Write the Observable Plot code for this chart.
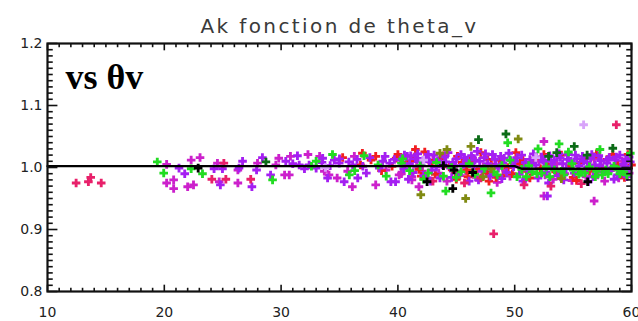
<!DOCTYPE html>
<html>
<head>
<meta charset="utf-8">
<script src="https://cdn.jsdelivr.net/npm/d3@7"></script>
<script src="https://cdn.jsdelivr.net/npm/@observablehq/plot@0.6"></script>
<style>
  html, body { margin: 0; padding: 0; background: #fff; }
  #chart { width: 638px; height: 321px; overflow: hidden; }
</style>
</head>
<body>
<div id="chart"></div>
<script>
const titleText = "Ak fonction de theta_v";
const annotText = "vs θv";
const xTicks = [10, 20, 30, 40, 50, 60];
const yTicks = [0.8, 0.9, 1.0, 1.1, 1.2];
const xDomain = [10, 60];
const yDomain = [0.8, 1.2];

const meanLine = [[10, 1.0022], [50, 1.0022], [50.6, 0.998], [60, 0.998]];

const greenPts = [
  [19.4,1.009],[19.95,0.991],[22.3,0.998],[23.27,0.990],[29.27,0.980],
  [32.6,1.002],[33.0,1.010],[34.4,1.021],[35.84,0.988],[36.3,0.995],[37.1,1.019],[38.3,1.004],[39.0,0.986],[40.3,1.007],
  [40.4,1.014],[41.0,0.995],[41.9,1.003],[42.6,0.991],[43.3,1.008],[43.9,0.986],[44.6,1.000],[45.4,0.993],[46.1,1.006],
  [46.6,0.989],[47.4,0.998],[48.2,0.993],[48.9,1.003],[49.6,1.012],[50.6,0.997],[51.2,1.003],[51.9,0.990],[52.7,1.001],
  [53.4,0.996],[54.2,0.988],[54.9,1.006],[55.7,0.992],[56.4,1.001],[56.9,0.985],[57.8,0.996],[58.5,1.002],[59.3,0.993],
  [59.9,1.023],[44.1,0.962],[47.97,0.959],[49.4,1.040],[53.8,1.038],[57.3,1.029],[52.0,1.030],[54.6,1.025],[58.0,0.990],
  [55.5,0.989],[50.2,0.985],[51.5,0.993],[53.0,0.985],[56.0,0.991],[57.0,0.994],[58.9,0.996],[59.6,0.988],
  [42.2,0.981],[45.0,0.984],[48.5,0.988],[51.0,0.985],[52.3,0.991],[54.0,0.994],[55.0,0.996],[57.5,0.988],[59.0,0.990]
];
const darkGreenPts = [
  [28.7,1.009],[49.25,1.054],[46.9,1.045],[55.1,1.034],[58.4,1.031],[52.9,1.018],[56.2,1.020],[53.6,1.024]
];
const olivePts = [
  [46.25,1.034],[50.3,1.046],[44.2,1.029],[41.96,0.956],[45.8,0.950],[48.0,0.998],[43.6,1.023],[47.3,0.985],[54.0,0.982]
];
const redPts = [
  [35.27,1.016],[36.8,1.004],[36.96,1.023],[37.7,1.012],[38.1,1.018],[38.6,0.995],[39.5,1.002],[39.85,1.015],[41.5,1.029],
  [40.0,1.021],[40.6,1.003],[41.4,1.016],[41.8,0.997],[42.3,1.025],[42.9,1.007],[43.2,0.989],[43.7,1.015],[44.4,1.001],
  [44.9,0.992],[45.1,1.018],[45.5,1.008],[46.0,0.985],[46.2,1.010],[46.8,0.997],[47.1,1.024],[47.6,0.992],[48.0,1.005],
  [48.4,0.984],[48.7,1.012],[49.4,1.000],[49.8,0.990],[50.1,1.024],[50.5,1.006],[51.0,0.994],[51.7,1.015],[52.2,0.998],
  [52.8,1.005],[53.5,0.993],[54.0,1.020],[54.7,1.003],[55.0,0.984],[55.6,1.008],[56.4,0.994],[57.0,1.022],[57.5,0.999],
  [58.4,1.021],[58.8,1.004],[59.1,0.989],[59.7,1.021],[60.0,1.004],[45.0,0.981],[47.8,0.978],[51.3,0.983],[55.3,0.979],
  [41.1,1.010],[42.0,0.986],[43.9,1.019],[45.9,0.996],[47.7,1.013],[49.0,0.987],[50.7,1.013],[52.5,1.021],[53.9,0.986],
  [56.0,1.015],[57.9,1.013],[59.4,0.984]
];
const crimsonPts = [
  [12.45,0.975],[13.5,0.977],[13.7,0.984],[14.6,0.975],[24.07,0.981],[25.1,1.007],[25.27,0.981],[27.4,0.981],
  [48.2,0.893],[58.7,1.069],[43.0,0.978],[45.7,0.975],[47.1,0.983],[50.8,0.972],[53.1,0.970],[55.7,0.974]
];
const magentaPts = [
  [20.2,1.005],[20.2,0.975],[20.8,0.980],[20.8,0.966],[22.3,1.012],[22.0,0.969],[22.5,0.972],[23.06,1.016],[24.55,1.007],
  [24.7,0.977],[26.3,0.975],[26.3,0.996],[27.98,1.007],[29.55,1.004],[29.8,1.015],[30.7,0.988],[30.8,1.018],[32.3,1.021],
  [30.3,0.988],[33.3,1.018],[33.7,0.994],[34.8,0.983],[35.7,0.994],[36.27,1.018],[38.1,0.972],[38.98,0.996],[40.1,0.988],
  [34.1,0.988],[36.1,0.969],[41.2,0.980],[41.8,0.969],[52.5,0.954],[56.8,0.946],[52.5,1.042],
  [40.3,0.990],[40.7,1.008],[41.2,0.985],[41.6,1.002],[42.1,0.994],[42.5,0.983],[43.0,1.012],[43.5,0.991],[44.2,0.978],
  [44.8,1.002],[45.3,0.987],[45.8,0.995],[46.4,1.015],[46.7,0.984],[47.3,1.001],[47.8,0.990],[48.5,0.976],[49.2,0.996],
  [49.6,0.986],[50.3,1.005],[50.9,0.980],[51.4,0.993],[52.1,1.010],[52.6,0.988],[53.3,0.981],[53.6,1.006],[54.3,0.990],
  [54.9,0.979],[55.4,0.997],[56.1,0.985],[56.8,1.013],[57.1,0.988],[57.7,0.978],[58.2,0.995],[58.9,0.983],[59.2,1.010],[59.8,0.991]
];
const purplePts = [
  [21.26,0.999],[21.75,0.990],[24.26,0.998],[24.8,0.972],[24.98,0.998],[26.4,0.999],[26.7,1.010],[27.5,0.969],[27.9,0.996],
  [28.4,1.016],[29.1,0.988],[30.4,1.010],[31.4,1.019],[31.55,1.004],[32.4,1.004],[33.0,0.999],[33.56,1.015],[33.98,0.983],
  [34.55,1.012],[34.98,1.007],[35.4,0.977],[36.13,1.004],[36.56,0.983],[37.3,0.991],[38.7,1.010],[39.4,0.977],[40.56,1.020],
  [39.8,0.977],[52.8,0.954],
  [31.0,1.006],[32.0,0.998],[33.5,1.008],[34.2,1.003],[35.0,1.014],[35.8,1.009],[36.5,1.013],[37.0,1.002],[37.6,1.016],
  [38.4,0.999],[38.9,1.018],[39.3,1.007],[39.7,1.013],
  [40.2,1.012],[40.5,0.998],[40.8,1.018],[41.0,1.006],[41.3,0.992],[41.5,1.014],[41.7,1.022],[42.0,1.003],[42.2,0.987],
  [42.4,1.016],[42.7,1.009],[42.9,0.996],[43.1,1.020],[43.4,1.011],[43.6,0.983],[43.8,1.004],[44.0,1.017],[44.3,1.024],
  [44.5,0.999],[44.7,1.008],[45.0,1.014],[45.2,0.990],[45.4,1.021],[45.6,1.005],[45.9,1.012],[46.1,0.978],[46.3,1.019],
  [46.5,1.002],[46.8,1.026],[47.0,1.010],[47.2,0.994],[47.4,1.016],[47.7,1.006],[47.9,0.986],[48.1,1.021],[48.3,1.013],
  [48.6,0.999],[48.8,1.018],[49.0,1.007],[49.3,0.992],[49.5,1.023],[49.7,1.011],[49.9,1.001],[50.2,1.016],[50.4,0.989],
  [50.6,1.020],[50.9,1.008],[51.1,0.996],[51.3,1.013],[51.6,1.022],[51.8,1.004],[52.0,0.983],[52.3,1.017],[52.5,1.009],
  [52.7,0.993],[53.0,1.019],[53.2,1.002],[53.4,1.012],[53.7,0.987],[53.9,1.016],[54.1,1.006],[54.4,0.998],[54.6,1.021],
  [54.8,1.010],[55.1,0.991],[55.3,1.014],[55.5,1.003],[55.8,1.018],[56.0,0.996],[56.2,1.008],[56.5,1.015],[56.7,0.985],
  [56.9,1.004],[57.2,1.019],[57.4,1.011],[57.6,0.993],[57.9,1.007],[58.1,1.016],[58.3,0.999],[58.6,1.012],[58.8,0.988],
  [59.0,1.020],[59.3,1.005],[59.5,1.013],[59.7,0.997],[59.9,1.009],
  [40.4,1.003],[41.1,1.019],[41.9,1.010],[42.6,1.021],[43.3,1.001],[44.1,1.009],[44.9,1.003],[45.7,1.016],[46.6,1.012],
  [47.5,1.022],[48.4,1.004],[49.1,1.015],[50.0,1.010],[50.8,1.001],[51.5,1.007],[52.4,1.012],[53.1,1.010],[53.8,1.022],
  [54.5,1.013],[55.2,1.020],[55.9,1.010],[56.6,1.021],[57.3,1.003],[58.0,1.013],[58.7,1.017],[59.4,1.001],[59.8,1.017],
  [40.9,0.981],[42.8,0.978],[44.6,0.984],[46.9,0.980],[48.9,0.982],[50.7,0.978],[52.9,0.975],[54.2,0.980],[56.3,0.977],
  [58.5,0.981],[59.6,0.985]
];
const blackPts = [
  [22.9,0.999],[42.5,0.977],[44.8,0.996],[44.7,0.966],[46.4,0.992],[56.25,0.977],[43.9,1.003]
];
const lavenderPts = [
  [55.9,1.069],[33.8,1.000],[42.2,1.012],[51.8,1.016]
];

// drawing order: magenta and red underneath, purple over them, green and the rare series on top
const seriesNames = ["S-magenta","S-red","S-purple","S-green","S-crimson","S-darkgreen","S-olive","S-black","S-lavender"];
const seriesColors = ["#cc20cc","#f21e1e","#a41ef2","#22dc22","#e8206a","#0b6b16","#808a12","#000000","#d8a4fa"];
const seriesData = [magentaPts, redPts, purplePts, greenPts, crimsonPts, darkGreenPts, olivePts, blackPts, lavenderPts];

const points = seriesData.flatMap((arr, i) => arr.map(([x, y]) => ({x, y, s: seriesNames[i]})));

const xMinor = d3.range(10, 61, 1);
const yMinor = d3.range(80, 121, 1).map(v => v / 100);
const isMajorX = v => v % 10 === 0;
const isMajorY = v => Math.abs(Math.round(v * 10) - v * 10) < 1e-6;

// tick lengths in data units
const xTickLen = v => isMajorX(v) ? 0.011 : 0.006;
const yTickLen = v => isMajorY(v) ? 0.85 : 0.45;

const chart = Plot.plot({
  width: 638,
  height: 321,
  marginLeft: 47,
  marginRight: 7,
  marginTop: 43,
  marginBottom: 30,
  x: {domain: xDomain, axis: null},
  y: {domain: yDomain, axis: null},
  color: {type: "ordinal", domain: seriesNames, range: seriesColors},
  style: {background: "#fff", fontFamily: "DejaVu Sans, sans-serif", fontSize: "14px", overflow: "visible"},
  marks: [
    Plot.dot(points, {x: "x", y: "y", fill: "s", symbol: "cross", r: 3.6, stroke: "none"}),
    Plot.line(meanLine, {x: d => d[0], y: d => d[1], stroke: "#000", strokeWidth: 2.3}),
    // bottom & top x ticks
    Plot.link(xMinor, {x1: d => d, x2: d => d, y1: 0.8, y2: d => 0.8 + xTickLen(d), stroke: "#111", strokeWidth: 1.6}),
    Plot.link(xMinor, {x1: d => d, x2: d => d, y1: 1.2, y2: d => 1.2 - xTickLen(d), stroke: "#111", strokeWidth: 1.6}),
    // left & right y ticks
    Plot.link(yMinor, {y1: d => d, y2: d => d, x1: 10, x2: d => 10 + yTickLen(d), stroke: "#111", strokeWidth: 1.6}),
    Plot.link(yMinor, {y1: d => d, y2: d => d, x1: 60, x2: d => 60 - yTickLen(d), stroke: "#111", strokeWidth: 1.6}),
    Plot.frame({stroke: "#111", strokeWidth: 2.2}),
    Plot.text(yTicks, {x: 10, y: d => d, text: d => d.toFixed(1), dx: -5, textAnchor: "end", fill: "#222", fontSize: 14}),
    Plot.text(xTicks, {x: d => d, y: 0.8, text: d => String(d), dy: 21, fill: "#222", fontSize: 14}),
    Plot.text([titleText], {frameAnchor: "top", text: d => d, dy: -11, lineAnchor: "bottom", fill: "#3a3a3a", fontSize: 20}),
    Plot.text([annotText], {frameAnchor: "top-left", text: d => d, dx: 18, dy: 20, lineAnchor: "top", textAnchor: "start",
      fontFamily: "Liberation Serif, serif", fontWeight: "bold", fontSize: 36, fill: "#000"})
  ]
});
// widen the title's letter spacing to match the reference's wide lettering
d3.select(chart).selectAll("text").filter(function() { return this.textContent === titleText; })
  .attr("letter-spacing", "2.4px");
document.getElementById("chart").appendChild(chart);
</script>
</body>
</html>
